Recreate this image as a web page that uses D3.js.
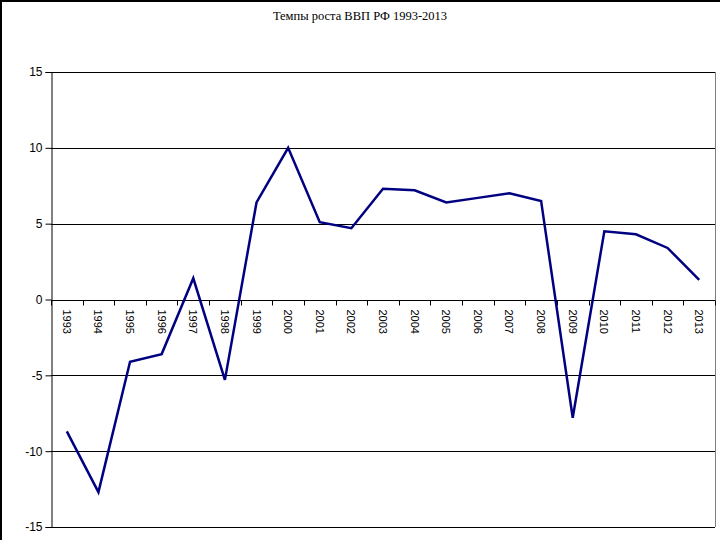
<!DOCTYPE html>
<html>
<head>
<meta charset="utf-8">
<script src="https://cdn.jsdelivr.net/npm/d3@7"></script>
<style>
  body { margin: 0; background: #fff; }
  svg { display: block; }
</style>
</head>
<body>
<div id="chart"></div>
<script>
// data
const years = ['1993','1994','1995','1996','1997','1998','1999','2000','2001','2002','2003',
  '2004','2005','2006','2007','2008','2009','2010','2011','2012','2013'];
const growth = [-8.7, -12.7, -4.1, -3.6, 1.4, -5.3, 6.4, 10.0, 5.1, 4.7, 7.3,
  7.2, 6.4, 6.7, 7.0, 6.5, -7.8, 4.5, 4.3, 3.4, 1.3];
const yTicks = [-15, -10, -5, 0, 5, 10, 15];
const title = 'Темпы роста ВВП РФ 1993-2013';

const W = 720, H = 540;
const margin = {top: 72, right: 5, bottom: 13, left: 51};

const svg = d3.select('#chart').append('svg')
  .attr('width', W)
  .attr('height', H);

// outer frame
svg.append('rect')
  .attr('x', 1).attr('y', 1)
  .attr('width', W + 10).attr('height', H + 10)
  .attr('fill', 'none').attr('stroke', '#000').attr('stroke-width', 2);

svg.append('text')
  .attr('x', 360).attr('y', 20)
  .attr('text-anchor', 'middle')
  .style('font-family', '"Liberation Serif", "Times New Roman", serif')
  .style('font-size', '12.5px')
  .text(title);

const x = d3.scaleBand()
  .domain(years)
  .range([margin.left, W - margin.right]);

const y = d3.scaleLinear()
  .domain([-15, 15])
  .range([H - margin.bottom, margin.top]);

// gridlines
svg.append('g')
  .selectAll('line')
  .data(yTicks)
  .join('line')
  .attr('x1', margin.left).attr('x2', W - margin.right)
  .attr('y1', d => Math.round(y(d)) + 0.5).attr('y2', d => Math.round(y(d)) + 0.5)
  .attr('stroke', '#000').attr('stroke-width', 1);

// right border of plot area
svg.append('line')
  .attr('x1', W - margin.right + 0.5).attr('x2', W - margin.right + 0.5)
  .attr('y1', y(15)).attr('y2', y(-15))
  .attr('stroke', '#808080');

// y axis
const yAxis = svg.append('g')
  .attr('transform', `translate(${margin.left + 0.5},0)`)
  .call(d3.axisLeft(y).tickValues(yTicks).tickSize(6).tickPadding(3).tickFormat(d3.format('d')));
yAxis.select('.domain').attr('stroke', '#000');
yAxis.selectAll('text')
  .style('font-family', '"Liberation Sans", Arial, sans-serif')
  .style('font-size', '12px')
  .attr('fill', '#000')
  .text(d => d < 0 ? '-' + Math.abs(d) : d);

// x axis at zero, ticks between categories
const xAxis = svg.append('g')
  .attr('transform', `translate(0,${Math.round(y(0)) + 0.5})`);
xAxis.selectAll('line')
  .data(years.concat(['end']))
  .join('line')
  .attr('x1', (d, i) => Math.round(margin.left + i * x.step()) + 0.5)
  .attr('x2', (d, i) => Math.round(margin.left + i * x.step()) + 0.5)
  .attr('y1', 0).attr('y2', 5)
  .attr('stroke', '#000');
xAxis.selectAll('text')
  .data(years)
  .join('text')
  .attr('transform', d => `translate(${x(d) + x.bandwidth() / 2 - 4},9) rotate(90)`)
  .attr('text-anchor', 'start')
  .style('font-family', '"Liberation Sans", Arial, sans-serif')
  .style('font-size', '11px')
  .text(d => d);

// line
const line = d3.line()
  .x((d, i) => x(years[i]) + x.bandwidth() / 2)
  .y(d => y(d));

svg.append('path')
  .datum(growth)
  .attr('d', line)
  .attr('fill', 'none')
  .attr('stroke', '#000080')
  .attr('stroke-width', 2.5)
  .attr('stroke-linejoin', 'miter');
</script>
</body>
</html>
